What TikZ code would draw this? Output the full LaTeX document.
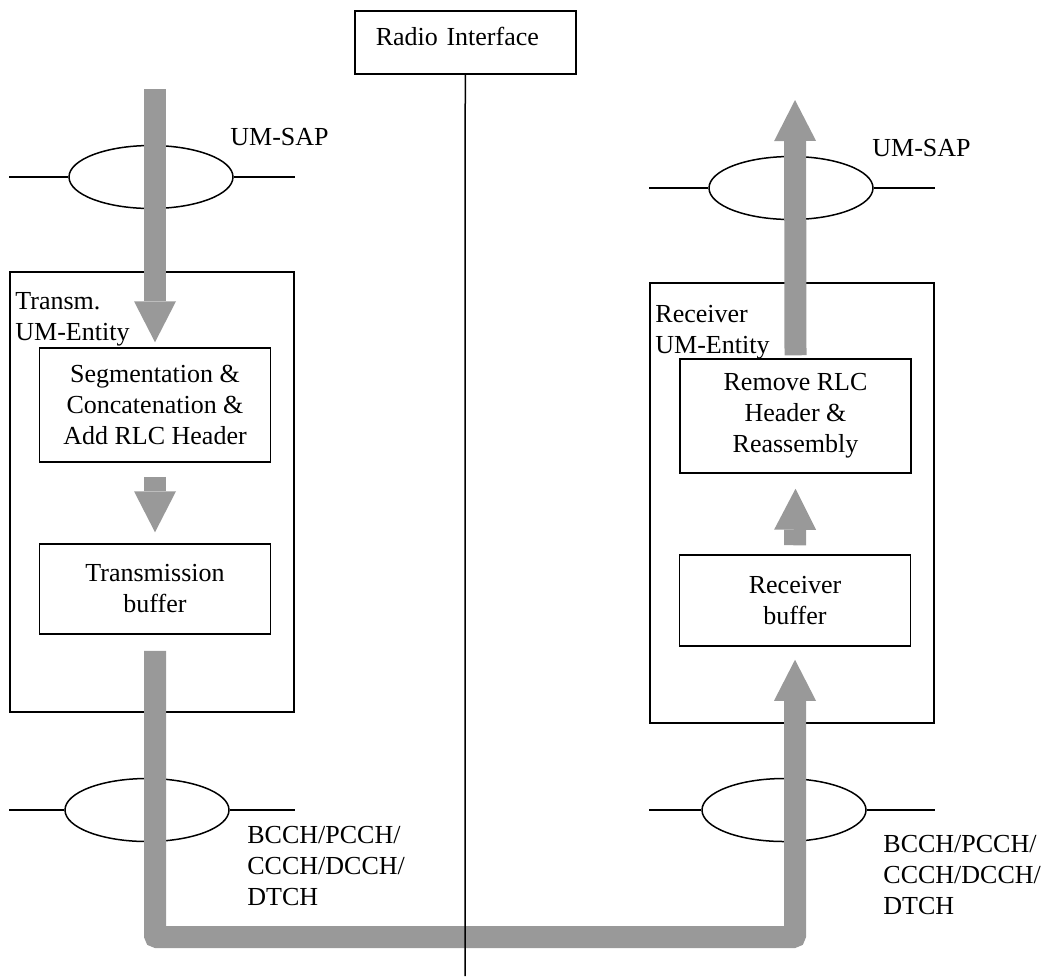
\documentclass[tikz,border=0pt]{standalone}
\usepackage{fontspec}
\setmainfont{Liberation Serif}
\usetikzlibrary{shapes.geometric,arrows.meta}
\definecolor{flowgray}{RGB}{153,153,153}
\begin{document}
\begin{tikzpicture}[x=0.5pt,y=-0.5pt]

\tikzstyle{txt}=[font=\fontsize{13}{15.5}\selectfont]
\tikzstyle{edge}=[line width=0.75pt]
\tikzstyle{cell}=[txt,edge,rectangle,draw,align=center,minimum width=115.5pt,inner sep=0pt]
\tikzstyle{entity}=[edge,rectangle,draw,minimum width=142pt,minimum height=220pt,inner sep=0pt]
\tikzstyle{sap}=[edge,ellipse,draw,minimum width=82pt,minimum height=31.5pt,inner sep=0pt]
\tikzstyle{lbl}=[txt,align=left,inner sep=0pt]
\tikzstyle{flow}=[draw=flowgray,line width=11pt,-{Triangle[width=21pt,length=20.5pt,line width=0pt]}]

\useasboundingbox (0,0) rectangle (1048,976);

\draw (354,10) node [txt,edge,draw,anchor=north west,text width=89.5pt,inner xsep=10.5pt,inner ysep=0pt,minimum height=31.5pt,text height=9pt,text depth=5.5pt,align=left] (radio) {Radio Interface};

\draw (152,492) node [entity] (tx) {};
\draw (792,503) node [entity] (rx) {};
\draw (15,292) node [lbl,anchor=north west] (txtitle) {Transm.\\UM-Entity};
\draw (655,305) node [lbl,anchor=north west] (rxtitle) {Receiver\\UM-Entity};

\draw (155,405) node [cell,minimum height=57pt] (seg) {Segmentation \&\\Concatenation \&\\Add RLC Header};
\draw (155,589) node [cell,minimum height=45pt] (txbuf) {Transmission\\buffer};
\draw (795.5,416) node [cell,minimum height=57pt] (reasm) {Remove RLC\\Header \&\\Reassembly};
\draw (795,600.5) node [cell,minimum height=45.5pt] (rxbuf) {Receiver\\buffer};

\draw (151,177) node [sap] (sapL) {};
\draw (791,188) node [sap] (sapR) {};
\draw (147,810) node [sap] (chL) {};
\draw (784,810) node [sap] (chR) {};
\draw[edge] (sapL.west) -- (sapL.west -| tx.west) (sapL.east) -- (sapL.east -| tx.east);
\draw[edge] (sapR.west) -- (sapR.west -| rx.west) (sapR.east) -- (sapR.east -| rx.east);
\draw[edge] (chL.west) -- (chL.west -| tx.west) (chL.east) -- (chL.east -| tx.east);
\draw[edge] (chR.west) -- (chR.west -| rx.west) (chR.east) -- (chR.east -| rx.east);

\draw (230,145) node [txt,anchor=base west,inner sep=0pt] (sapLtxt) {UM-SAP};
\draw (872,156) node [txt,anchor=base west,inner sep=0pt] (sapRtxt) {UM-SAP};
\draw (247,826) node [lbl,anchor=north west] (chLtxt) {BCCH/PCCH/\\CCCH/DCCH/\\DTCH};
\draw (883,835) node [lbl,anchor=north west] (chRtxt) {BCCH/PCCH/\\CCCH/DCCH/\\DTCH};

\coordinate (sduin) at (155,89);
\coordinate (sduout) at (795,100);
\coordinate (chan) at (465,937);
\coordinate (ground) at (465,976);

\draw[flow] (sduin) -- ([yshift=2.5pt]seg.north);
\draw[flow] ([yshift=-7pt]seg.south) -- ([yshift=5.5pt]txbuf.north);
\draw[flow,rounded corners=1pt] ([yshift=-8pt]txbuf.south) |- (chan) -| ([yshift=-6.5pt]rxbuf.south);
\draw[flow] ([yshift=4.5pt]rxbuf.north) -- ([yshift=-7.5pt]reasm.south);
\draw[flow] ([yshift=1.5pt]reasm.north) -- (sduout);

\draw[edge] (radio.south) -- (ground);

\end{tikzpicture}
\end{document}
